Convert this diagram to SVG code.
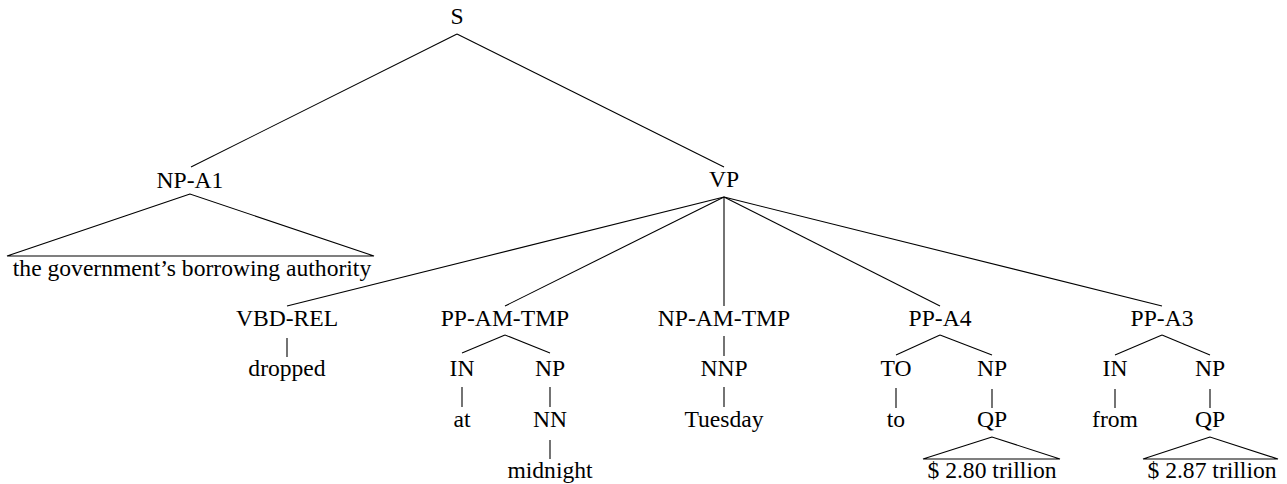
<svg xmlns="http://www.w3.org/2000/svg" width="1287" height="484" viewBox="0 0 1287 484">
<style>
.c line,.c polygon{stroke:#000;stroke-width:1.1;fill:none}
.t text{font-family:'Liberation Serif','Times New Roman',serif;font-size:23.6px;fill:#000;text-anchor:middle}
</style>
<rect width="1287" height="484" fill="#fff"/>
<g id="connectors" class="c">
<line x1="457" y1="34" x2="191" y2="167"/>
<line x1="457" y1="34" x2="724" y2="167"/>
<polygon points="190,194 7,256 374,256"/>
<line x1="724" y1="197" x2="287" y2="306"/>
<line x1="724" y1="197" x2="505" y2="306"/>
<line x1="724" y1="197" x2="724" y2="306"/>
<line x1="724" y1="197" x2="940" y2="306"/>
<line x1="724" y1="197" x2="1162" y2="306"/>
<line x1="287" y1="338" x2="287" y2="357"/>
<line x1="505" y1="335" x2="462" y2="353"/>
<line x1="505" y1="335" x2="550" y2="353"/>
<line x1="462" y1="387" x2="462" y2="407"/>
<line x1="550" y1="387" x2="550" y2="407"/>
<line x1="550" y1="440" x2="550" y2="459"/>
<line x1="724" y1="336" x2="724" y2="356"/>
<line x1="724" y1="387" x2="724" y2="407"/>
<line x1="940" y1="335" x2="896" y2="355"/>
<line x1="940" y1="335" x2="992" y2="355"/>
<line x1="896" y1="388" x2="896" y2="408"/>
<line x1="992" y1="389" x2="992" y2="408"/>
<polygon points="992,437 923,459 1060,459"/>
<line x1="1162" y1="335" x2="1115" y2="355"/>
<line x1="1162" y1="335" x2="1210" y2="355"/>
<line x1="1115" y1="389" x2="1115" y2="408"/>
<line x1="1210" y1="389" x2="1210" y2="408"/>
<polygon points="1210,437 1143,459 1278,459"/>
</g>
<g class="t">
<g id="n-S"><text x="457" y="24">S</text></g>
<g id="n-NPA1"><text x="190" y="188">NP-A1</text></g>
<g id="n-NPA1-yield"><text x="192" y="276">the government’s borrowing authority</text></g>
<g id="n-VP"><text x="724" y="187">VP</text></g>
<g id="n-VBDREL"><text x="287" y="326">VBD-REL</text></g>
<g id="n-dropped"><text x="287" y="376">dropped</text></g>
<g id="n-PPAMTMP"><text x="505" y="326">PP-AM-TMP</text></g>
<g id="n-IN1"><text x="462" y="376">IN</text></g>
<g id="n-at"><text x="462" y="427">at</text></g>
<g id="n-NP1"><text x="550" y="376">NP</text></g>
<g id="n-NN"><text x="550" y="427">NN</text></g>
<g id="n-midnight"><text x="550" y="478">midnight</text></g>
<g id="n-NPAMTMP"><text x="724" y="326">NP-AM-TMP</text></g>
<g id="n-NNP"><text x="724" y="376">NNP</text></g>
<g id="n-Tuesday"><text x="724" y="427">Tuesday</text></g>
<g id="n-PPA4"><text x="940" y="326">PP-A4</text></g>
<g id="n-TO"><text x="896" y="376">TO</text></g>
<g id="n-to"><text x="896" y="427">to</text></g>
<g id="n-NP2"><text x="992" y="376">NP</text></g>
<g id="n-QP1"><text x="992" y="427">QP</text></g>
<g id="n-QP1-yield"><text x="992" y="478">$ 2.80 trillion</text></g>
<g id="n-PPA3"><text x="1162" y="326">PP-A3</text></g>
<g id="n-IN2"><text x="1115" y="376">IN</text></g>
<g id="n-from"><text x="1115" y="427">from</text></g>
<g id="n-NP3"><text x="1210" y="376">NP</text></g>
<g id="n-QP2"><text x="1210" y="427">QP</text></g>
<g id="n-QP2-yield"><text x="1212" y="478">$ 2.87 trillion</text></g>
</g>
</svg>
